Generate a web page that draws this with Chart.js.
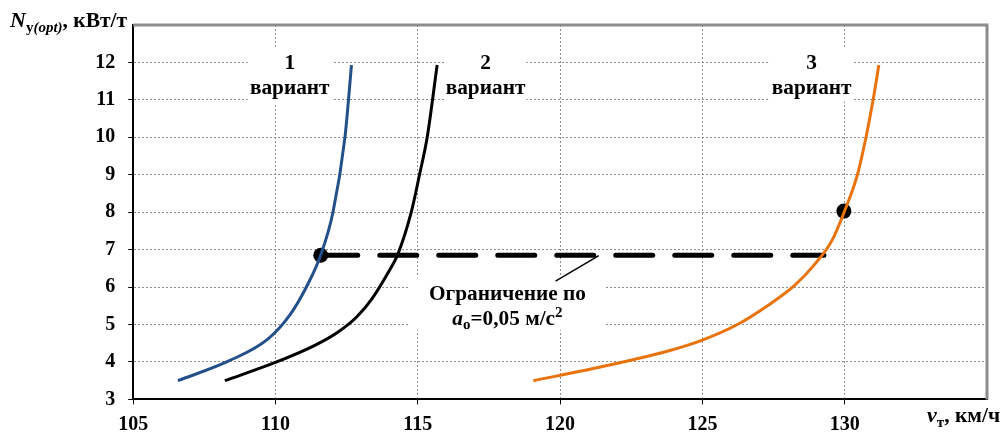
<!DOCTYPE html>
<html>
<head>
<meta charset="utf-8">
<script src="https://cdn.jsdelivr.net/npm/chart.js@4.4.0/dist/chart.umd.min.js"></script>
<style>
  html, body { margin: 0; padding: 0; background: #fff; }
</style>
</head>
<body>
<canvas id="chart" width="1003" height="433"></canvas>
<script>
// Variant curves (speed km/h, power kW/t)
const variant1X = [106.57, 108.34, 109.73, 110.50, 111.09, 111.59, 112.02, 112.44, 112.67];
const variant1Y = [3.50, 4.02, 4.61, 5.25, 6.01, 6.86, 8.00, 10.0, 11.93];
const variant2X = [108.22, 110.04, 111.40, 112.20, 112.85, 113.40, 113.99, 114.29, 114.77, 115.06, 115.33, 115.68];
const variant2Y = [3.50, 4.00, 4.45, 4.80, 5.20, 5.70, 6.43, 6.86, 8.00, 9.00, 10.0, 11.93];
const variant3X = [119.06, 121.20, 123.73, 125.00, 126.23, 127.34, 128.22, 128.96, 129.55, 129.98, 130.45, 130.75, 131.00, 131.20];
const variant3Y = [3.50, 3.83, 4.28, 4.585, 5.00, 5.53, 6.03, 6.62, 7.24, 8.00, 9.01, 10.01, 11.01, 11.93];

// Acceleration limit line and marked points
const limitX = [111.59, 129.27];
const limitY = [6.85, 6.85];
const markX = [111.59, 129.97];
const markY = [6.85, 8.03];
const leaderX = [119.84, 121.36];
const leaderY = [6.16, 6.84];

// Axis ticks
const xTicks = [105, 110, 115, 120, 125, 130, 135];
const yTicks = [3, 4, 5, 6, 7, 8, 9, 10, 11, 12, 13];

const SERIF = "'Liberation Serif', 'Times New Roman', serif";

function toPoints(xs, ys) {
    return xs.map((x, i) => ({ x: x, y: ys[i] }));
}

// Draw a line of mixed-style text centred on cx (or starting at cx)
function richText(ctx, parts, cx, baseY, align) {
    let total = 0;
    parts.forEach(p => {
        ctx.font = p.font;
        p.w = ctx.measureText(p.text).width;
        total += p.w;
    });
    let x = align === 'left' ? cx : cx - total / 2;
    ctx.textBaseline = 'alphabetic';
    ctx.textAlign = 'left';
    parts.forEach(p => {
        ctx.font = p.font;
        ctx.fillText(p.text, x, baseY + (p.dy || 0));
        x += p.w;
    });
}

const boxLabels = [
    { x: 110.5, lines: ['1', 'вариант'], w: 84, top: 12.38, bottom: 10.89 },
    { x: 117.38, lines: ['2', 'вариант'], w: 82, top: 12.38, bottom: 10.89 },
    { x: 128.84, lines: ['3', 'вариант'], w: 83, top: 12.38, bottom: 10.95 }
];

const LABEL_FONT = 'bold 21.3px ' + SERIF;

const annotationsPlugin = {
    id: 'annotations',
    beforeDatasetsDraw(chart) {
        const ctx = chart.ctx;
        const xs = chart.scales.x, ys = chart.scales.y;
        ctx.save();
        boxLabels.forEach(lb => {
            const cx = xs.getPixelForValue(lb.x);
            const t = ys.getPixelForValue(lb.top), b = ys.getPixelForValue(lb.bottom);
            ctx.fillStyle = '#fff';
            ctx.fillRect(cx - lb.w / 2, t, lb.w, b - t);
            ctx.fillStyle = '#000';
            const y12 = ys.getPixelForValue(12);
            richText(ctx, [{ text: lb.lines[0], font: LABEL_FONT }], cx, y12 + 7);
            richText(ctx, [{ text: lb.lines[1], font: LABEL_FONT }], cx, y12 + 32);
        });

        // limit label
        const lx = xs.getPixelForValue(118.15);
        const lt = ys.getPixelForValue(6.26), lbm = ys.getPixelForValue(4.85);
        ctx.fillStyle = '#fff';
        ctx.fillRect(lx - 98, lt, 196, lbm - lt);
        ctx.fillStyle = '#000';
        richText(ctx, [{ text: 'Ограничение по', font: LABEL_FONT }], lx, 300);
        richText(ctx, [
            { text: 'a', font: 'italic bold 21.3px ' + SERIF },
            { text: 'о', font: 'bold 15px ' + SERIF, dy: 4 },
            { text: '=0,05 м/с', font: LABEL_FONT },
            { text: '2', font: 'bold 15px ' + SERIF, dy: -8 }
        ], lx, 325);
        ctx.restore();
    },
    afterDraw(chart) {
        const ctx = chart.ctx;
        const a = chart.chartArea;
        ctx.save();
        // grey frame on top and right
        ctx.strokeStyle = '#8c8c8c';
        ctx.lineWidth = 3;
        ctx.beginPath();
        ctx.moveTo(a.left, a.top);
        ctx.lineTo(a.right, a.top);
        ctx.lineTo(a.right, a.bottom);
        ctx.stroke();

        ctx.fillStyle = '#000';
        // y axis title
        richText(ctx, [
            { text: 'N', font: 'italic bold 22px ' + SERIF },
            { text: 'у', font: 'bold 15px ' + SERIF, dy: 5 },
            { text: '(opt)', font: 'italic bold 15px ' + SERIF, dy: 5 },
            { text: ', кВт/т', font: 'bold 21.5px ' + SERIF }
        ], 10, 27, 'left');
        // x axis title
        richText(ctx, [
            { text: 'v', font: 'italic bold 22px ' + SERIF },
            { text: 'т', font: 'bold 15px ' + SERIF, dy: 5 },
            { text: ', км/ч', font: 'bold 21.5px ' + SERIF }
        ], 927, 422, 'left');
        ctx.restore();
    }
};

const curveStyle = {
    showLine: true,
    pointRadius: 0,
    borderWidth: 3,
    cubicInterpolationMode: 'monotone',
    fill: false
};

new Chart(document.getElementById('chart'), {
    type: 'scatter',
    data: {
        datasets: [
            Object.assign({ label: '1 вариант', data: toPoints(variant1X, variant1Y), borderColor: '#24508a' }, curveStyle),
            Object.assign({ label: '2 вариант', data: toPoints(variant2X, variant2Y), borderColor: '#000000' }, curveStyle),
            Object.assign({ label: '3 вариант', data: toPoints(variant3X, variant3Y), borderColor: '#e8730c' }, curveStyle),
            {
                label: 'Ограничение',
                data: toPoints(limitX, limitY),
                showLine: true,
                pointRadius: 0,
                borderColor: '#000',
                borderWidth: 5,
                borderDash: [37, 22],
                borderCapStyle: 'round'
            },
            {
                label: 'leader',
                data: toPoints(leaderX, leaderY),
                showLine: true,
                pointRadius: 0,
                borderColor: '#000',
                borderWidth: 1.5
            },
            {
                label: 'points',
                data: toPoints(markX, markY),
                showLine: false,
                pointRadius: 7.5,
                pointBackgroundColor: '#000',
                pointBorderWidth: 0
            }
        ]
    },
    options: {
        responsive: false,
        animation: false,
        events: [],
        layout: { padding: { top: 23.6, right: 16, left: 0, bottom: 0 } },
        plugins: {
            legend: { display: false },
            tooltip: { enabled: false }
        },
        scales: {
            x: {
                type: 'linear',
                min: 105,
                max: 135,
                afterFit(scale) { scale.height = 33.6; },
                afterBuildTicks(scale) { scale.ticks = xTicks.map(v => ({ value: v })); },
                ticks: {
                    color: '#000',
                    padding: 8,
                    maxRotation: 0,
                    font: { family: SERIF, size: 20, weight: 'bold' },
                    callback: v => (v === 135 ? '' : v)
                },
                grid: {
                    color: '#8c8c8c',
                    tickLength: 5,
                    tickColor: c => (c.tick && c.tick.value === 135 ? 'rgba(0,0,0,0)' : '#000')
                },
                border: { display: true, color: '#000', width: 2, dash: [2, 2] }
            },
            y: {
                type: 'linear',
                min: 3,
                max: 13,
                afterFit(scale) { scale.width = 133.2; },
                afterBuildTicks(scale) { scale.ticks = yTicks.map(v => ({ value: v })); },
                ticks: {
                    color: '#000',
                    padding: 13,
                    font: { family: SERIF, size: 20, weight: 'bold' },
                    callback: v => (v === 13 ? '' : v)
                },
                grid: {
                    color: '#8c8c8c',
                    tickLength: 5,
                    tickColor: c => (c.tick && c.tick.value === 13 ? 'rgba(0,0,0,0)' : '#000')
                },
                border: { display: true, color: '#000', width: 2, dash: [2, 2] }
            }
        }
    },
    plugins: [annotationsPlugin]
});
</script>
</body>
</html>
